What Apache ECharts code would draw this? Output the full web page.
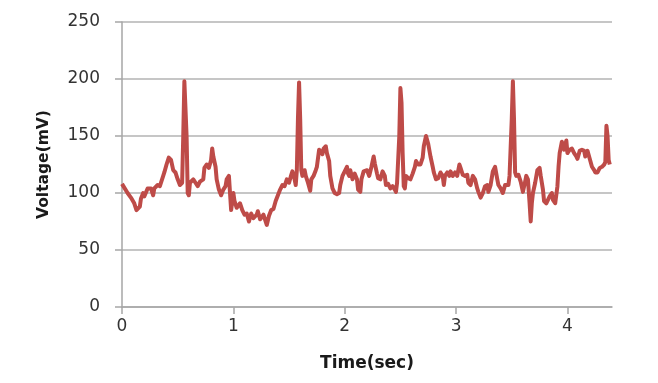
<!DOCTYPE html>
<html>
<head>
<meta charset="utf-8">
<script src="https://cdn.jsdelivr.net/npm/echarts@6/dist/echarts.min.js"></script>
<style>
  html, body { margin: 0; padding: 0; background: #fff; }
  #chart { width: 658px; height: 383px; }
</style>
</head>
<body>
<div id="chart"></div>
<script>
// time axis (sec) and ECG voltage (mV)
var timeSec = [
  0.00, 0.05, 0.08, 0.11, 0.13, 0.14, 0.16, 0.17, 0.19, 0.20, 0.23, 0.26, 0.28, 0.29, 0.32, 0.34,
  0.37, 0.38, 0.40, 0.42, 0.44, 0.46, 0.48, 0.50, 0.52, 0.54, 0.55, 0.56, 0.57, 0.58, 0.59, 0.60,
  0.61, 0.64, 0.66, 0.68, 0.70, 0.73, 0.74, 0.76, 0.78, 0.80, 0.81, 0.82, 0.84, 0.85, 0.87, 0.89,
  0.91, 0.93, 0.94, 0.96, 0.97, 0.98, 1.00, 1.01, 1.03, 1.06, 1.08, 1.10, 1.12, 1.14, 1.16, 1.18,
  1.21, 1.22, 1.24, 1.27, 1.28, 1.30, 1.32, 1.34, 1.36, 1.38, 1.40, 1.42, 1.44, 1.46, 1.48, 1.50,
  1.52, 1.53, 1.55, 1.56, 1.57, 1.58, 1.59, 1.60, 1.61, 1.62, 1.64, 1.65, 1.67, 1.69, 1.70, 1.72,
  1.74, 1.75, 1.77, 1.78, 1.80, 1.81, 1.83, 1.84, 1.86, 1.87, 1.89, 1.91, 1.93, 1.95, 1.96, 1.98,
  2.00, 2.02, 2.03, 2.04, 2.05, 2.07, 2.09, 2.11, 2.12, 2.14, 2.15, 2.17, 2.18, 2.20, 2.22, 2.24,
  2.26, 2.27, 2.29, 2.30, 2.32, 2.34, 2.36, 2.37, 2.39, 2.41, 2.43, 2.45, 2.46, 2.47, 2.49, 2.50,
  2.51, 2.52, 2.53, 2.54, 2.55, 2.57, 2.59, 2.61, 2.63, 2.64, 2.66, 2.68, 2.70, 2.71, 2.73, 2.75,
  2.77, 2.79, 2.80, 2.82, 2.84, 2.86, 2.88, 2.89, 2.90, 2.92, 2.94, 2.95, 2.97, 2.99, 3.01, 3.03,
  3.04, 3.06, 3.08, 3.10, 3.11, 3.13, 3.15, 3.17, 3.19, 3.20, 3.22, 3.24, 3.26, 3.28, 3.29, 3.31,
  3.33, 3.35, 3.37, 3.38, 3.40, 3.42, 3.44, 3.45, 3.47, 3.48, 3.50, 3.51, 3.52, 3.53, 3.54, 3.56,
  3.58, 3.60, 3.62, 3.63, 3.645, 3.66, 3.67, 3.68, 3.69, 3.71, 3.73, 3.75, 3.76, 3.78, 3.79, 3.81,
  3.82, 3.84, 3.86, 3.87, 3.89, 3.91, 3.92, 3.93, 3.95, 3.97, 3.99, 4.00, 4.02, 4.04, 4.06, 4.08,
  4.09, 4.11, 4.13, 4.15, 4.16, 4.18, 4.20, 4.22, 4.24, 4.25, 4.27, 4.29, 4.31, 4.33, 4.34, 4.35,
  4.36, 4.37, 4.38
];
var voltage = [
  108, 100, 96, 91, 85, 84, 88, 95, 100, 97, 104, 104, 98, 104, 107, 106,
  115, 118, 125, 131, 129, 120, 118, 112, 107, 109, 150, 198, 197, 150, 100, 98,
  109, 112, 109, 106, 110, 112, 122, 125, 122, 129, 139, 132, 123, 112, 103, 98,
  103, 106, 112, 115, 100, 85, 100, 93, 87, 91, 85, 81, 82, 75, 82, 78,
  81, 84, 77, 81, 80, 72, 80, 85, 86, 93, 98, 103, 107, 106, 112, 109,
  116, 119, 112, 107, 120, 165, 197, 165, 120, 115, 120, 115, 109, 102, 112, 115,
  120, 123, 138, 137, 134, 139, 141, 135, 128, 115, 104, 100, 99, 100, 107, 115,
  119, 123, 117, 115, 120, 112, 117, 112, 103, 101, 112, 119, 120, 120, 115, 123,
  132, 126, 117, 113, 112, 119, 115, 107, 108, 104, 106, 103, 101, 109, 150, 192,
  179, 135, 106, 104, 115, 113, 112, 117, 123, 128, 125, 125, 131, 141, 150, 143,
  132, 123, 118, 112, 113, 118, 115, 107, 115, 118, 115, 119, 115, 118, 115, 125,
  122, 116, 115, 116, 109, 107, 115, 112, 104, 101, 96, 100, 106, 107, 101, 107,
  119, 123, 112, 107, 104, 100, 107, 106, 107, 115, 165, 198, 165, 118, 115, 116,
  110, 101, 110, 115, 112, 91, 75, 91, 100, 109, 120, 122, 115, 103, 93, 91,
  90, 97, 100, 94, 91, 106, 123, 135, 145, 138, 146, 135, 138, 139, 135, 132,
  130, 137, 138, 137, 132, 137, 130, 123, 120, 118, 118, 122, 123, 125, 127, 159,
  150, 129, 125
];
var xTicks = [0, 1, 2, 3, 4];

var chart = echarts.init(document.getElementById('chart'));
var labelFont = '"DejaVu Sans", sans-serif';

chart.setOption({
  animation: false,
  backgroundColor: '#fff',
  grid: { left: 122, right: 46, top: 22, bottom: 76 },
  xAxis: {
    type: 'value',
    min: 0,
    max: 4.4,
    interval: 1,
    name: 'Time(sec)',
    nameLocation: 'middle',
    nameGap: 48,
    nameTextStyle: { fontSize: 17, fontWeight: 'bold', color: '#1a1a1a', fontFamily: labelFont },
    axisLine: { lineStyle: { color: '#a6a6a6', width: 1.5 } },
    axisTick: { show: true, length: 7, customValues: xTicks, lineStyle: { color: '#a6a6a6', width: 1.5 } },
    axisLabel: { customValues: xTicks, margin: 11, fontSize: 17, color: '#333', fontFamily: labelFont },
    splitLine: { show: false }
  },
  yAxis: {
    type: 'value',
    min: 0,
    max: 250,
    interval: 50,
    name: 'Voltage(mV)',
    nameLocation: 'middle',
    nameGap: 70,
    nameTextStyle: { fontSize: 15.5, fontWeight: 'bold', color: '#1a1a1a', fontFamily: labelFont },
    axisLine: { show: true, lineStyle: { color: '#a6a6a6', width: 1.5 } },
    axisTick: { show: true, length: 7, lineStyle: { color: '#a6a6a6', width: 1.5 } },
    axisLabel: { margin: 22, fontSize: 17, color: '#333', fontFamily: labelFont },
    splitLine: { lineStyle: { color: '#b3b3b3', width: 1.5 } }
  },
  series: [{
    type: 'line',
    data: timeSec.map(function (t, i) { return [t, voltage[i]]; }),
    symbol: 'none',
    lineStyle: { color: '#be4b48', width: 4, join: 'round' }
  }]
});
</script>
</body>
</html>
